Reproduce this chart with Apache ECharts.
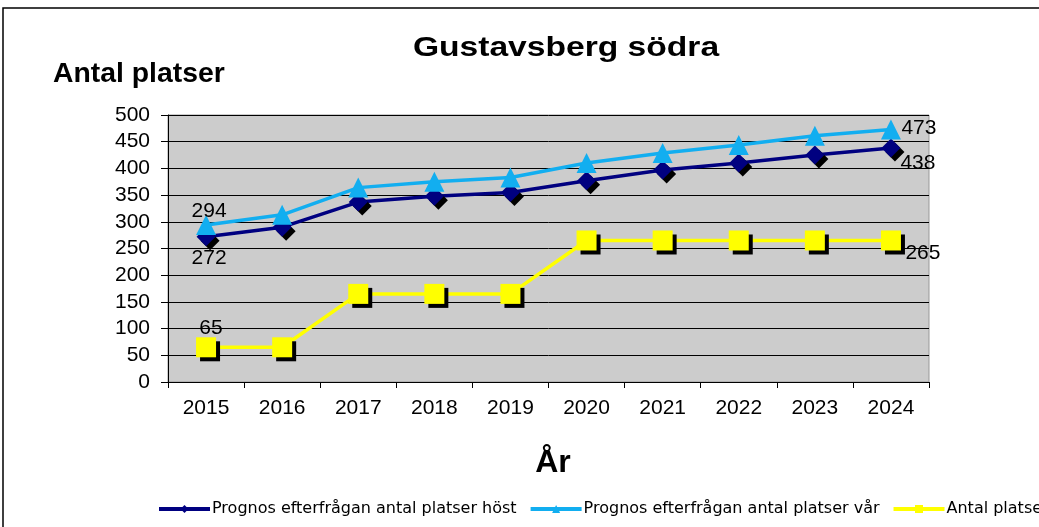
<!DOCTYPE html>
<html><head><meta charset="utf-8">
<script src="https://cdn.jsdelivr.net/npm/echarts@6/dist/echarts.min.js"></script>
<style>html,body{margin:0;padding:0;background:#fff}#c{width:1039px;height:527px}</style>
</head><body><div id="c"></div>
<script>
const years = ['2015','2016','2017','2018','2019','2020','2021','2022','2023','2024'];
const host = [272, 290, 337, 348, 355, 377, 397, 410, 425, 438];
const var_ = [294, 313, 364, 375, 383, 410, 429, 444, 461, 473];
const antal = [65, 65, 165, 165, 165, 265, 265, 265, 265, 265];
const yTicks = [0, 50, 100, 150, 200, 250, 300, 350, 400, 450, 500];
const names = ['Prognos efterfrågan antal platser höst','Prognos efterfrågan antal platser vår','Antal platser'];

const font = 'Liberation Sans, Arial, sans-serif';
const shadow = {shadowColor:'#000', shadowOffsetX:4, shadowOffsetY:4, shadowBlur:0};
function lbl(arr, offsets){
  return arr.map((v,i)=>{
    const o = offsets[i];
    if(!o) return v;
    return {value:v, label:{show:true, position:'inside', offset:o, color:'#000', fontSize:21, fontFamily:font}};
  });
}
const last = years.length-1;
const chart = echarts.init(document.getElementById('c'));
chart.setOption({
  animation:false,
  backgroundColor:'#fff',
  graphic:[{type:'rect', shape:{x:3,y:8,width:1100,height:600}, style:{fill:'none', stroke:'#000', lineWidth:1.5}},
    {type:'text', x:566, y:48, scaleX:1.2, originX:0, originY:0,
      style:{text:'Gustavsberg södra', font:'bold 28px '+font, fill:'#000', textAlign:'center', textVerticalAlign:'middle'}},
    {type:'text', x:53, y:75, scaleX:1.05, originX:0, originY:0,
      style:{text:'Antal platser', font:'bold 27px '+font, fill:'#000', textAlign:'left', textVerticalAlign:'middle'}},
    {type:'text', x:553, y:463, style:{text:'År', font:'bold 32px '+font, fill:'#000', textAlign:'center', textVerticalAlign:'middle'}}],
  legend:{left:157, top:501, width:3000, padding:0, itemWidth:51, itemHeight:10, itemGap:12,
    lineStyle:{width:4}, itemStyle:{shadowBlur:0, shadowOffsetX:0, shadowOffsetY:0},
    textStyle:{fontSize:16, fontFamily:'DejaVu Sans, sans-serif', color:'#000', padding:[0,0,0,-3]}, data:names},
  grid:{left:168, top:115, width:761, height:267, show:true, backgroundColor:'#cccccc', borderColor:'#999', borderWidth:1},
  xAxis:{type:'category', data:years, boundaryGap:true,
    axisLine:{lineStyle:{color:'#000', width:1}},
    axisTick:{show:true, interval:0, length:6, lineStyle:{color:'#000'}},
    axisLabel:{fontSize:21, fontFamily:font, color:'#000', margin:16}},
  yAxis:{type:'value', min:0, max:500, interval:50,
    axisLine:{show:true, lineStyle:{color:'#000'}},
    axisTick:{show:true, length:7, lineStyle:{color:'#000'}},
    axisLabel:{fontSize:21, fontFamily:font, color:'#000', margin:18,
      formatter:v=>yTicks.includes(v)?String(v):''},
    splitLine:{show:true, lineStyle:{color:'#000', width:1}}},
  series:[
    {name:names[0], type:'line', data:lbl(host,{0:[3,21], [last]:[27,15]}),
      symbol:'diamond', symbolSize:19, color:'#000080', lineStyle:{width:3.5, color:'#000080'},
      itemStyle:Object.assign({color:'#000080'}, shadow), z:3},
    {name:names[1], type:'line', data:lbl(var_,{0:[3,-14], [last]:[28,-1]}),
      symbol:'triangle', symbolSize:20, color:'#12aef0', lineStyle:{width:3.5, color:'#12aef0'},
      itemStyle:{color:'#12aef0'}, z:4},
    {name:names[2], type:'line', data:lbl(antal,{0:[5,-19], [last]:[32,13]}),
      symbol:'rect', symbolSize:20, color:'#ffff00', lineStyle:{width:3.5, color:'#ffff00'},
      itemStyle:Object.assign({color:'#ffff00'}, shadow), z:2}
  ]
});
</script></body></html>
